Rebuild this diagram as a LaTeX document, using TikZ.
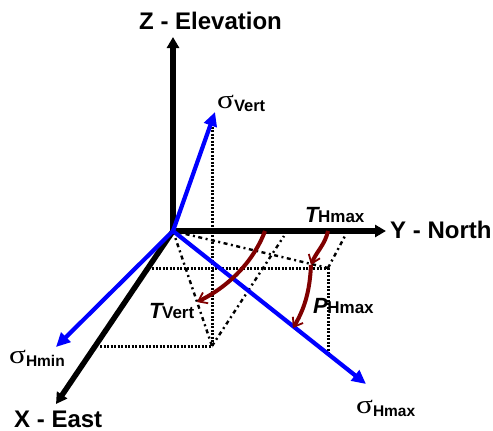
\documentclass[tikz,border=0pt]{standalone}
\usepackage{fontspec}
\setmainfont{Liberation Sans}
\newfontfamily\sigmafont{Liberation Serif}
\usetikzlibrary{arrows.meta}
\tikzset{
  axisline/.style={line width=5.5pt,black,-{Triangle[length=11pt,width=12pt]},shorten <=-1pt},
  stressline/.style={line width=4.2pt,blue!100,-{Triangle[length=14pt,width=13pt]}},
  dotline/.style={line width=3pt,black,dash pattern=on 2.2pt off 1.3pt},
  dashdotline/.style={line width=2.4pt,black,dash pattern=on 4pt off 3.5pt on 2pt off 3.5pt},
  rotline/.style={line width=4pt,draw={rgb,255:red,128;green,0;blue,0},-{Straight Barb[length=8pt,width=12pt,line width=1.8pt]}},
  axislabel/.style={anchor=base west,inner sep=0pt,font=\fontsize{24}{26}\selectfont\bfseries},
  smalllabel/.style={anchor=base west,inner sep=0pt,font=\fontsize{15.5}{18}\selectfont\bfseries},
  italiclabel/.style={anchor=base west,inner sep=0pt,font=\fontsize{22}{24}\selectfont\bfseries\itshape},
}
\newcommand{\sig}{\raisebox{3pt}{\scalebox{1.2}[1]{\sigmafont\fontsize{26}{28}\selectfont\mdseries σ}}}
\newcommand{\lowsub}[1]{{\upshape\fontsize{17}{19}\selectfont\bfseries\kern-0.5pt #1}}
\begin{document}
\begin{tikzpicture}[x=1pt,y=-1pt]
\useasboundingbox (0,0) rectangle (493,431);
\coordinate (O) at (173,231);
\coordinate (Ztip) at (173,37);
\coordinate (Ytip) at (386,231);
\coordinate (Xtip) at (56,404);
\coordinate (SV) at (215,112);
\coordinate (SVfoot) at (212,346);
\coordinate (Xfoot) at (100,346);
\coordinate (SHmin) at (56,347);
\coordinate (SHmax) at (366,384);
\coordinate (Ybase) at (284,236);
\coordinate (Xmid) at (152,268);
\coordinate (Corner) at (328,268);
\coordinate (Ymax) at (345,236);
\coordinate (HmaxFoot) at (328,354);
\coordinate (Tv0) at (265,231);
\coordinate (Tv1) at (197,302);
\coordinate (Th0) at (328,231);
\coordinate (Th1) at (311,265);
\coordinate (Ph1) at (293,328);
% projection lines
\draw[dotline] (212,116) -- (SVfoot);
\draw[dotline] (Xfoot) -- (SVfoot);
\draw[dotline] (Xmid) -- (Corner);
\draw[dotline] (Corner) -- (HmaxFoot);
\draw[dashdotline] (O) -- (SVfoot);
\draw[dashdotline] (SVfoot) -- (Ybase);
\draw[dashdotline] (O) -- (Corner);
\draw[dashdotline] (Corner) -- (Ymax);
% axes
\draw[axisline] (O) -- (Ztip);
\draw[axisline] (O) -- (Ytip);
\draw[axisline] (O) -- (Xtip);
% principal stresses
\draw[stressline] (O) -- (SV);
\draw[stressline] (O) -- (SHmin);
\draw[stressline] (O) -- (SHmax);
% rotations
\draw[rotline] (Tv0) .. controls (255,258) and (232,285) .. (Tv1);
\draw[rotline] (Th0) .. controls (325,245) and (316,252) .. (Th1);
\draw[rotline] (Th1) .. controls (310,285) and (307,305) .. (Ph1);
% labels
\node[axislabel] (lz) at (139,29) {Z - Elevation};
\node[axislabel] (ly) at (390,238) {Y - North};
\node[axislabel] (lx) at (14,427) {X - East};
\node[smalllabel] (lsv) at (217,111) {\sig{\fontsize{16.5}{18}\selectfont Vert}};
\node[smalllabel] (lsmin) at (9,366) {\sig Hmin};
\node[smalllabel] (lsmax) at (356,416) {\sig Hmax};
\node[italiclabel] (lth) at (305,222) {T\lowsub{Hmax}};
\node[italiclabel] (ltv) at (149,318) {T\lowsub{Vert}};
\node[italiclabel] (lph) at (313,313) {P\lowsub{Hmax}};
\end{tikzpicture}
\end{document}
